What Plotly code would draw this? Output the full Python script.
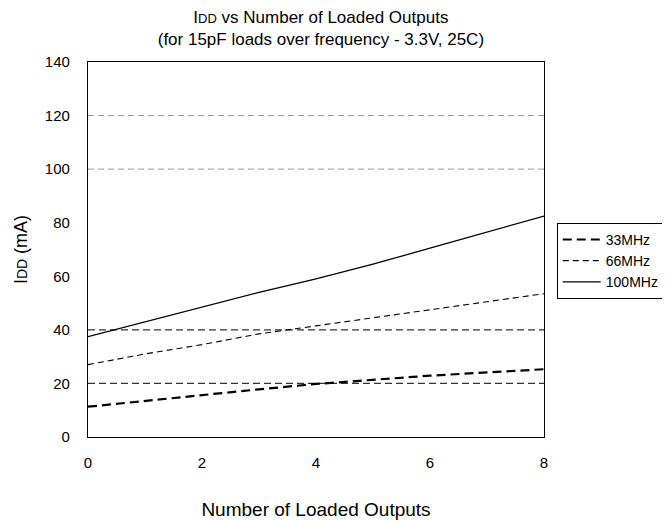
import plotly.graph_objects as go

outputs = [0, 1, 2, 3, 4, 5, 6, 7, 8]
idd_33mhz = [11.3, 13.5, 15.7, 17.8, 19.8, 21.4, 22.9, 24.1, 25.3]
idd_66mhz = [27.0, 31.0, 34.5, 38.5, 41.5, 44.5, 47.5, 50.5, 53.5]
idd_100mhz = [37.5, 43.0, 48.5, 54.0, 59.0, 64.5, 70.5, 76.5, 82.5]
series_names = ["33MHz", "66MHz", "100MHz"]
y_ticks = [0, 20, 40, 60, 80, 100, 120, 140]
x_ticks = [0, 2, 4, 6, 8]
grid_light = [100, 120]
grid_dark = [20, 40]

FONT = "Liberation Sans, Arial, sans-serif"

fig = go.Figure()
styles = [
    dict(color="black", width=2.2, dash="9px,5px"),
    dict(color="black", width=1.1, dash="6px,4px"),
    dict(color="black", width=1.3, dash="solid"),
]
for name, ys, st in zip(series_names, [idd_33mhz, idd_66mhz, idd_100mhz], styles):
    fig.add_trace(go.Scatter(x=outputs, y=ys, mode="lines", name=name, line=st))

for g in grid_light:
    fig.add_shape(type="line", xref="paper", x0=0, x1=1, yref="y", y0=g, y1=g,
                  line=dict(color="#999999", width=1, dash="6px,4px"), layer="below")
for g in grid_dark:
    fig.add_shape(type="line", xref="paper", x0=0, x1=1, yref="y", y0=g, y1=g,
                  line=dict(color="#333333", width=1.2, dash="7px,4px"), layer="below")

fig.update_layout(
    width=670, height=521,
    margin=dict(l=80, r=134, t=54, b=92, autoexpand=False),
    paper_bgcolor="white", plot_bgcolor="white",
    font=dict(family=FONT, color="black"),
    title=dict(
        text="I<span style='font-size:13px'>DD</span> vs Number of Loaded Outputs<br>(for 15pF loads over frequency - 3.3V, 25C)",
        x=0.467, xanchor="center", xref="container",
        y=0.972, yanchor="top", yref="container",
        font=dict(size=17, family=FONT),
    ),
    xaxis=dict(
        range=[0, 8], tickvals=x_ticks, ticktext=[str(v) for v in x_ticks],
        showgrid=False, zeroline=False, showline=True, mirror=True,
        linecolor="black", linewidth=1.3, ticks="", ticklabelstandoff=12,
        tickfont=dict(size=15, family=FONT), automargin=False,
        title=dict(text="Number of Loaded Outputs", font=dict(size=19, family=FONT), standoff=32),
    ),
    yaxis=dict(
        range=[0, 140], tickvals=y_ticks, ticktext=[str(v) for v in y_ticks],
        showgrid=False, zeroline=False, showline=True, mirror=True,
        linecolor="black", linewidth=1.3, ticks="", ticklabelstandoff=14,
        tickfont=dict(size=15, family=FONT), automargin=False,
        title=dict(text="I<span style='font-size:14px'>DD</span> (mA)", font=dict(size=18, family=FONT), standoff=12),
    ),
    legend=dict(
        x=1.028, xanchor="left", y=0.571, yanchor="top",
        bordercolor="black", borderwidth=1, bgcolor="white",
        font=dict(size=14, family=FONT), tracegroupgap=0,
        itemwidth=38,
    ),
)

fig.write_html("out.html")
